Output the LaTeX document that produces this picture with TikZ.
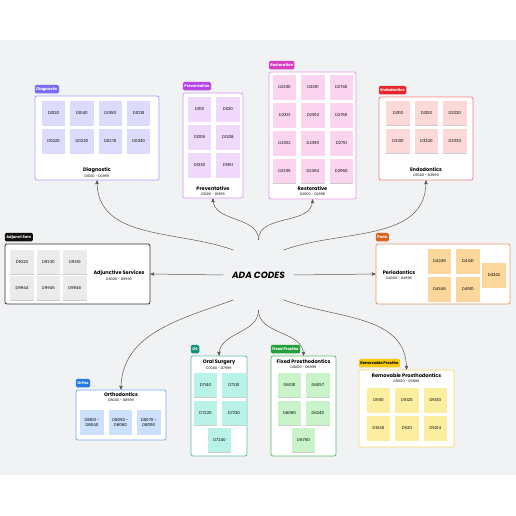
\documentclass[tikz,border=0pt]{standalone}
\usepackage{fontspec}
\setmainfont{Poppins}
\usepackage{tikz}
\usetikzlibrary{arrows,positioning,shadows}
\definecolor{bandgray}{HTML}{F1F2F4}
\definecolor{dgtag}{HTML}{7A6CF5}
\definecolor{dgline}{HTML}{A9A2F7}
\definecolor{dgfill}{HTML}{DCDBFB}
\definecolor{pvtag}{HTML}{B845E8}
\definecolor{pvline}{HTML}{D99AF2}
\definecolor{pvfill}{HTML}{F0D9FB}
\definecolor{rstag}{HTML}{D53FC2}
\definecolor{rsline}{HTML}{EC9ADF}
\definecolor{rsfill}{HTML}{FBD5F0}
\definecolor{edtag}{HTML}{E5262F}
\definecolor{edline}{HTML}{EE8080}
\definecolor{edfill}{HTML}{FBD9D9}
\definecolor{ajtag}{HTML}{111111}
\definecolor{ajline}{HTML}{333333}
\definecolor{ajfill}{HTML}{EBEBEB}
\definecolor{pdtag}{HTML}{D96520}
\definecolor{pdline}{HTML}{E59A68}
\definecolor{pdfill}{HTML}{FCD79C}
\definecolor{ottag}{HTML}{2479E3}
\definecolor{otline}{HTML}{7AAAF0}
\definecolor{otfill}{HTML}{CDE0FB}
\definecolor{ostag}{HTML}{14907C}
\definecolor{osline}{HTML}{5EBFA9}
\definecolor{osfill}{HTML}{B9F2E6}
\definecolor{fxtag}{HTML}{24A13D}
\definecolor{fxline}{HTML}{5CBB6C}
\definecolor{fxfill}{HTML}{C9F3C9}
\definecolor{rmtag}{HTML}{F6C90A}
\definecolor{rmline}{HTML}{F7D962}
\definecolor{rmfill}{HTML}{FBEF9F}
\tikzset{
    %Define standard arrow tip
    >=stealth',
    %Define style for group boxes
    groupbox/.style={
           rectangle,
           rounded corners=2pt,
           draw=black, line width=0.8pt,
           fill=white,
           inner sep=0pt},
    %Define style for group labels
    tagbox/.style={
           rectangle,
           rounded corners=1.5pt,
           inner xsep=1.6pt,
           inner ysep=0pt,
           minimum height=8.5pt,
           font=\fontsize{3.8}{4}\selectfont\bfseries,
           text=white},
    %Define style for the code notes
    sticky/.style={
           rectangle,
           minimum width=23.5pt,
           minimum height=24.5pt,
           inner sep=0pt,
           align=center,
           font=\fontsize{4}{4.8}\selectfont,
           drop shadow={shadow xshift=0pt, shadow yshift=-0.7pt, opacity=0.4}},
    grouptitle/.style={
           inner sep=0pt,
           font=\fontsize{5}{6}\selectfont\bfseries},
    coderange/.style={
           inner sep=0pt,
           font=\fontsize{3.4}{4}\selectfont},
    hub/.style={
           circle,
           minimum size=70pt,
           inner sep=0pt,
           font=\fontsize{9}{10}\selectfont\bfseries\itshape},
    % Define arrow style
    link/.style={
           ->,
           color=black!65,
           line width=0.5pt}
}
\begin{document}
\begin{tikzpicture}[x=1pt,y=1pt,node distance=3pt and 4.5pt,
  dgnote/.style={sticky,fill=dgfill},pvnote/.style={sticky,fill=pvfill},
  rsnote/.style={sticky,fill=rsfill},ednote/.style={sticky,fill=edfill},
  ajnote/.style={sticky,fill=ajfill},pdnote/.style={sticky,fill=pdfill},
  otnote/.style={sticky,fill=otfill},osnote/.style={sticky,fill=osfill},
  fxnote/.style={sticky,fill=fxfill},rmnote/.style={sticky,fill=rmfill}]
\useasboundingbox (0,0) rectangle (516,516);
\fill[bandgray] (0,41) rectangle (516,476);
\node[hub](ada) at (258.5,241){ADA CODES};

% Diagnostic
\node[groupbox, draw=dgline, minimum width=124pt, minimum height=84pt](dgbox) at (97,378){};
\node[tagbox, fill=dgtag, above=2pt of dgbox.north west, anchor=south west](dgtag){Diagnostic};
\node[dgnote](dg1) at (53.5,402.5){D0120};
\node[dgnote, right=of dg1](dg2){D0140};
\node[dgnote, right=of dg2](dg3){D0150};
\node[dgnote, right=of dg3](dg4){D0210};
\node[dgnote, below=of dg1](dg5){D0220};
\node[dgnote, right=of dg5](dg6){D0230};
\node[dgnote, right=of dg6](dg7){D0270};
\node[dgnote, right=of dg7](dg8){D0330};
\node[grouptitle](dgtitle) at (97,346){Diagnostic};
\node[coderange, below=1.6pt of dgtitle](dgrange){D0100 - D0999};

% Preventative
\node[groupbox, draw=pvline, minimum width=60pt, minimum height=105pt](pvbox) at (213,370.5){};
\node[tagbox, fill=pvtag, above=2pt of pvbox.north west, anchor=south west](pvtag){Preventative};
\node[pvnote](pv1) at (199.5,406.5){D1110};
\node[pvnote, right=of pv1](pv2){D1120};
\node[pvnote, below=of pv1](pv3){D1206};
\node[pvnote, right=of pv3](pv4){D1208};
\node[pvnote, below=of pv3](pv5){D1330};
\node[pvnote, right=of pv5](pv6){D1351};
\node[grouptitle](pvtitle) at (213,327){Preventative};
\node[coderange, below=1.6pt of pvtitle](pvrange){D1000 - D1999};

% Restorative
\node[groupbox, draw=rsline, minimum width=87pt, minimum height=127pt](rsbox) at (312.5,380.5){};
\node[tagbox, fill=rstag, above=2pt of rsbox.north west, anchor=south west](rstag){Restorative};
\node[rsnote](rs1) at (284.5,428.5){D2330};
\node[rsnote, right=of rs1](rs2){D2391};
\node[rsnote, right=of rs2](rs3){D2740};
\node[rsnote, below=of rs1](rs4){D2331};
\node[rsnote, right=of rs4](rs5){D2392};
\node[rsnote, right=of rs5](rs6){D2750};
\node[rsnote, below=of rs4](rs7){D2332};
\node[rsnote, right=of rs7](rs8){D2393};
\node[rsnote, right=of rs8](rs9){D2751};
\node[rsnote, below=of rs7](rs10){D2335};
\node[rsnote, right=of rs10](rs11){D2394};
\node[rsnote, right=of rs11](rs12){D2950};
\node[grouptitle](rstitle) at (312.5,327){Restorative};
\node[coderange, below=1.6pt of rstitle](rsrange){D2000 - D2999};

% Endodontics
\node[groupbox, draw=edline, minimum width=94pt, minimum height=83pt](edbox) at (426,377.5){};
\node[tagbox, fill=edtag, above=2pt of edbox.north west, anchor=south west](edtag){Endodontics};
\node[ednote](ed1) at (398,403){D3110};
\node[ednote, right=of ed1](ed2){D3120};
\node[ednote, right=of ed2](ed3){D3220};
\node[ednote, below=of ed1](ed4){D3310};
\node[ednote, right=of ed4](ed5){D3320};
\node[ednote, right=of ed5](ed6){D3330};
\node[grouptitle](edtitle) at (426,346){Endodontics};
\node[coderange, below=1.6pt of edtitle](edrange){D3000 - D3999};

% Adjunctive Services
\node[groupbox, draw=ajline, minimum width=145pt, minimum height=60pt](ajbox) at (77.5,242){};
\node[tagbox, fill=ajtag, above=2pt of ajbox.north west, anchor=south west](ajtag){Adjunct Serv};
\node[ajnote](aj1) at (22,254){D9220};
\node[ajnote, right=2.5pt of aj1](aj2){D9230};
\node[ajnote, right=2.5pt of aj2](aj3){D9310};
\node[ajnote, below=1pt of aj1](aj4){D9944};
\node[ajnote, right=2.5pt of aj4](aj5){D9945};
\node[ajnote, right=2.5pt of aj5](aj6){D9946};
\node[grouptitle](ajtitle) at (119,243){Adjunctive Services};
\node[coderange, below=1.6pt of ajtitle](ajrange){D9000 - D9999};

% Periodontics
\node[groupbox, draw=pdline, minimum width=134pt, minimum height=60pt](pdbox) at (443,242){};
\node[tagbox, fill=pdtag, above=2pt of pdbox.north west, anchor=south west](pdtag){Perio};
\node[pdnote](pd1) at (439.5,254.5){D4249};
\node[pdnote, right=of pd1](pd2){D4341};
\node[pdnote, below=of pd1](pd3){D4346};
\node[pdnote, right=of pd3](pd4){D4910};
\node[pdnote](pd5) at (494,240.5){D4342};
\node[grouptitle](pdtitle) at (399,243){Periodontics};
\node[coderange, below=1.6pt of pdtitle](pdrange){D4000 - D4999};

% Orthodontics
\node[groupbox, draw=otline, minimum width=90pt, minimum height=50pt](otbox) at (121,101){};
\node[tagbox, fill=ottag, above=2pt of otbox.north west, anchor=south west](ottag){Ortho};
\node[otnote](ot1) at (92,93.5){D8010 -\\D8040};
\node[otnote, right=of ot1](ot2){D8050 -\\D8060};
\node[otnote, right=of ot2](ot3){D8070 -\\D8090};
\node[grouptitle](ottitle) at (121,121){Orthodontics};
\node[coderange, below=1.6pt of ottitle](otrange){D8000 - D8999};

% Oral Surgery
\node[groupbox, draw=osline, minimum width=56pt, minimum height=100pt](osbox) at (219,110){};
\node[tagbox, fill=ostag, above=2pt of osbox.north west, anchor=south west](ostag){OS};
\node[osnote](os1) at (205.5,131){D7140};
\node[osnote, right=of os1](os2){D7210};
\node[osnote, below=of os1](os3){D7220};
\node[osnote, right=of os3](os4){D7230};
\node[osnote](os5) at (219.5,76){D7240};
\node[grouptitle](ostitle) at (219,154){Oral Surgery};
\node[coderange, below=1.6pt of ostitle](osrange){D7000 - D7999};

% Fixed Prosthodontics
\node[groupbox, draw=fxline, minimum width=65pt, minimum height=100pt](fxbox) at (303.5,110){};
\node[tagbox, fill=fxtag, above=2pt of fxbox.north west, anchor=south west](fxtag){Fixed Prostho};
\node[fxnote](fx1) at (289.5,131){D6010};
\node[fxnote, right=of fx1](fx2){D6057};
\node[fxnote, below=of fx1](fx3){D6065};
\node[fxnote, right=of fx3](fx4){D6240};
\node[fxnote](fx5) at (303.5,76){D6750};
\node[grouptitle](fxtitle) at (303.5,154){Fixed Prosthodontics};
\node[coderange, below=1.6pt of fxtitle](fxrange){D6000 - D6999};

% Removable Prosthodontics
\node[groupbox, draw=rmline, minimum width=95pt, minimum height=77pt](rmbox) at (406.5,107.5){};
\node[tagbox, fill=rmtag, text=black, above=2pt of rmbox.north west, anchor=south west](rmtag){Removable Prostho};
\node[rmnote](rm1) at (378.5,115.5){D5110};
\node[rmnote, right=of rm1](rm2){D5120};
\node[rmnote, right=of rm2](rm3){D5130};
\node[rmnote, below=of rm1](rm4){D5140};
\node[rmnote, right=of rm4](rm5){D5211};
\node[rmnote, right=of rm5](rm6){D5214};
\node[grouptitle](rmtitle) at (406.5,140){Removable Prosthodontics};
\node[coderange, below=1.6pt of rmtitle](rmrange){D5000 - D5899};

\path[link]
	(ada.west) edge (ajbox.east)
	(ada.east) edge (pdbox.west)
	(ada.135) edge[out=160,in=-90] (dgbox.south)
	(ada.north) edge[out=90,in=-90] (pvbox.south)
	(ada.north) edge[out=90,in=-90] (rsbox.south)
	(ada.45) edge[out=20,in=-90] (edbox.south)
	(ada.225) edge[out=200,in=90] (otbox.north)
	(ada.south) edge[out=-90,in=90] (osbox.north)
	(ada.south) edge[out=-90,in=90] (fxbox.north)
	(ada.315) edge[out=-20,in=90] (rmbox.north);
\end{tikzpicture}
\end{document}
